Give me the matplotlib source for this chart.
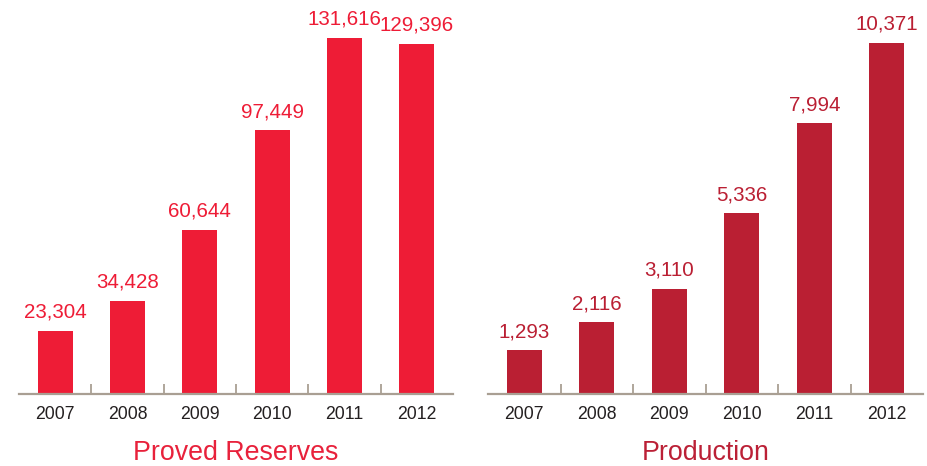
import matplotlib
matplotlib.use("Agg")
import matplotlib.pyplot as plt

years = ["2007", "2008", "2009", "2010", "2011", "2012"]
reserves = [23304, 34428, 60644, 97449, 131616, 129396]
production = [1293, 2116, 3110, 5336, 7994, 10371]
titles = ["Proved Reserves", "Production"]

plt.rcParams['font.family'] = ['Liberation Sans', 'DejaVu Sans']

fig = plt.figure(figsize=(9.27, 4.66), dpi=100)

panels = [
    dict(rect=[19/927, 1-394/466, 434/927, 394/466], data=reserves, color="#EE1C36",
         tcolor="#E8213B", ymax=145660),
    dict(rect=[488/927, 1-394/466, 435/927, 394/466], data=production, color="#BA1F33",
         tcolor="#BB2036", ymax=11640),
]

for p, title in zip(panels, titles):
    ax = fig.add_axes(p["rect"])
    x = list(range(len(years)))
    ax.bar(x, p["data"], width=0.48, color=p["color"], zorder=2)
    ax.set_xlim(-0.5, 5.5)
    ax.set_ylim(0, p["ymax"])
    for s in ["top", "left", "right"]:
        ax.spines[s].set_visible(False)
    ax.spines["bottom"].set_color("#A99F93")
    ax.spines["bottom"].set_linewidth(1.6)
    ax.set_yticks([])
    ax.set_xticks(x)
    ax.set_xticklabels(years, fontsize=12.7, color="#231F20")
    ax.tick_params(axis="x", which="major", length=0, pad=8.5)
    ax.set_xticks([i + 0.5 for i in range(len(years) - 1)], minor=True)
    ax.tick_params(axis="x", which="minor", direction="in", length=7.5, width=1.3, color="#A99F93")
    for xi, v in zip(x, p["data"]):
        ax.annotate(f"{v:,}", (xi, v), xytext=(0, 6.5), textcoords="offset points",
                    ha="center", va="bottom", fontsize=14.8, color=p["color"])
    cx = p["rect"][0] + p["rect"][2] / 2
    fig.text(cx, 1 - 453/466, title, ha="center", va="center", fontsize=19.3,
             color=p["tcolor"])

fig.savefig("out.png", dpi=100)
